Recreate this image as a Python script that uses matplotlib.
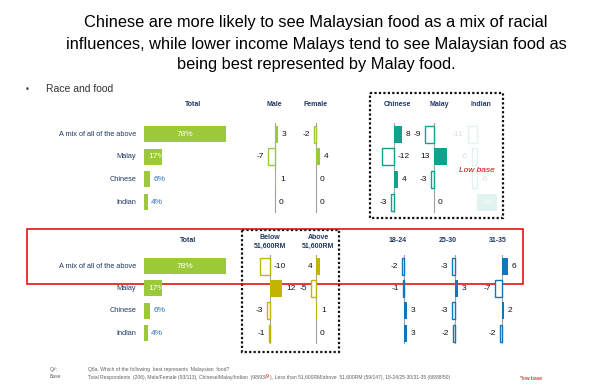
import matplotlib
matplotlib.use("Agg")
import matplotlib.pyplot as plt
from matplotlib.patches import Rectangle

# ---------------- data ----------------
title_lines = [
    "Chinese are more likely to see Malaysian food as a mix of racial",
    "influences, while lower income Malays tend to see Malaysian food as",
    "being best represented by Malay food.",
]
rows = ["A mix of all of the above", "Malay", "Chinese", "Indian"]
total = [78, 17, 6, 4]

male = [3, -7, 1, 0]
female = [-2, 4, 0, 0]
chinese = [8, -12, 4, -3]
malay = [-9, 13, -3, 0]
indian = [-11, -6, -6, 24]

below = [-10, 12, -3, -1]
above = [4, -5, 1, 0]
age_18_24 = [-2, -1, 3, 3]
age_25_30 = [-3, 3, -3, -2]
age_31_35 = [6, -7, 2, -2]

# label side for each value (R = right of axis/bar, L = left, C = centre)
male_side = "RLRR"
female_side = "LRRR"
chinese_side = "RRRL"
malay_side = "LLLR"
indian_side = "LLRC"
below_side = "RRLL"
above_side = "LLRR"
a1824_side = "LLRR"
a2530_side = "LRLL"
a3135_side = "RLRL"

# ---------------- style ----------------
W, H = 597, 390
GREEN = "#9BC93A"
TEAL = "#10A38C"
OLIVE = "#C2B400"
BLUE = "#1177BB"
NAVY = "#1F3864"
AXGRAY = "#A0A0A0"
FONT = "Liberation Sans"

fig = plt.figure(figsize=(W / 100, H / 100), dpi=100)
bg = fig.add_axes([0, 0, 1, 1])
bg.set_xlim(0, W)
bg.set_ylim(H, 0)
bg.axis("off")


def px_axes(x0, y0, w, h):
    ax = fig.add_axes([x0 / W, 1 - (y0 + h) / H, w / W, h / H])
    ax.axis("off")
    ax.patch.set_alpha(0)
    return ax


def diff_panel(values, sides, axis_x, y0, dy, color, bh=17, scale=1.0,
               span=40, faded=False):
    ax = px_axes(axis_x - span * scale, y0 - dy / 2, 2 * span * scale, 4 * dy)
    ax.set_xlim(-span, span)
    ax.set_ylim(3.5, -0.5)
    alpha = 0.13 if faded else 1.0
    if not faded:
        ax.axvline(0, color=AXGRAY, lw=0.8, zorder=1)
    for i, v in enumerate(values):
        if v >= 0:
            ax.barh(i, v, height=bh / dy, color=color, alpha=alpha, zorder=2)
        else:
            ax.barh(i, v, height=bh / dy, facecolor="white", edgecolor=color,
                    lw=1.0, alpha=alpha, zorder=2)
        s = sides[i]
        tcol = "#C8C8C8" if faded else "#111111"
        talpha = 0.6 if faded else 1.0
        if s == "R":
            ax.annotate(str(v), (max(v, 0), i), xytext=(4, 0),
                        textcoords="offset pixels", ha="left", va="center",
                        fontsize=6, family=FONT, color=tcol, alpha=talpha)
        elif s == "L":
            ax.annotate(str(v), (min(v, 0), i), xytext=(-4, 0),
                        textcoords="offset pixels", ha="right", va="center",
                        fontsize=6, family=FONT, color=tcol, alpha=talpha)
        else:
            ax.annotate(str(v), (v / 2, i), ha="center", va="center",
                        fontsize=6, family=FONT, color="white", alpha=0.8)
    return ax


def total_panel(values, x0, y0, dy, bh=16, scale=1.05):
    ax = px_axes(x0, y0 - dy / 2, 100 * scale, 4 * dy)
    ax.set_xlim(0, 100)
    ax.set_ylim(3.5, -0.5)
    for i, v in enumerate(values):
        ax.barh(i, v, height=bh / dy, color=GREEN, left=0)
        lab = f"{v}%"
        if v >= 50:
            ax.text(v / 2, i, lab, ha="center", va="center", color="white",
                    fontsize=6, family=FONT)
        elif v >= 15:
            ax.annotate(lab, (0, i), xytext=(4, 0), textcoords="offset pixels",
                        ha="left", va="center", color="white", fontsize=6,
                        family=FONT)
        else:
            ax.annotate(lab, (v, i), xytext=(3, 0), textcoords="offset pixels",
                        ha="left", va="center", color="#2E75B6", fontsize=6,
                        family=FONT)
    return ax


# ---------------- title ----------------
for k, line in enumerate(title_lines):
    bg.text(316, 23 + k * 21, line, ha="center", va="center", fontsize=11.8,
            family=FONT, color="black")

bg.text(27, 89, "\u2022", ha="center", va="center", fontsize=6, color="#404040")
bg.text(46, 89, "Race and food", ha="left", va="center", fontsize=7.5,
        family=FONT, color="#333333")

# ---------------- top section ----------------
TY0, TDY = 134, 22.7
for i, r in enumerate(rows):
    bg.text(136, TY0 + i * TDY, r, ha="right", va="center", fontsize=5.3,
            family=FONT, color=NAVY)
hdr = dict(ha="center", va="center", fontsize=5, family=FONT, color=NAVY,
           fontweight="bold")
bg.text(193, 104, "Total", **hdr)
bg.text(274, 104, "Male", **hdr)
bg.text(316, 104, "Female", **hdr)
bg.text(397, 104, "Chinese", **hdr)
bg.text(439, 104, "Malay", **hdr)
bg.text(481, 104, "Indian", **hdr)

total_panel(total, 144, TY0, TDY)
diff_panel(male, male_side, 275, TY0, TDY, GREEN)
diff_panel(female, female_side, 316, TY0, TDY, GREEN)
diff_panel(chinese, chinese_side, 394, TY0, TDY, TEAL)
diff_panel(malay, malay_side, 434, TY0, TDY, TEAL)
diff_panel(indian, indian_side, 477, TY0, TDY, TEAL, faded=True, scale=0.85)

bg.text(477, 170, "Low base", ha="center", va="center", fontsize=6,
        family=FONT, color="#D00000", style="italic")

bg.add_patch(Rectangle((370, 93), 133, 125, fill=False, ec="#111111",
                       lw=1.6, ls=(0, (1, 1))))

# ---------------- bottom section ----------------
BY0, BDY = 266, 22.4
for i, r in enumerate(rows):
    bg.text(136, BY0 + i * BDY, r, ha="right", va="center", fontsize=5.3,
            family=FONT, color=NAVY)
bg.text(188, 240, "Total", **hdr)
bg.text(270, 242, "Below\n51,600RM", linespacing=1.5, **hdr)
bg.text(318, 242, "Above\n51,600RM", linespacing=1.5, **hdr)
bg.text(398, 241, "18-24", **hdr)
bg.text(448, 241, "25-30", **hdr)
bg.text(498, 241, "31-35", **hdr)

total_panel(total, 144, BY0, BDY)
diff_panel(below, below_side, 270, BY0, BDY, OLIVE)
diff_panel(above, above_side, 316, BY0, BDY, OLIVE)
diff_panel(age_18_24, a1824_side, 404, BY0, BDY, BLUE)
diff_panel(age_25_30, a2530_side, 455, BY0, BDY, BLUE)
diff_panel(age_31_35, a3135_side, 502, BY0, BDY, BLUE)

bg.add_patch(Rectangle((242, 230), 97, 122, fill=False, ec="#111111",
                       lw=1.6, ls=(0, (1, 1))))
bg.add_patch(Rectangle((27, 229), 496, 55, fill=False, ec="#E00000", lw=1.1))

# ---------------- footer ----------------
foot = dict(fontsize=3.6, family=FONT, color="#606060", va="center", ha="left")
bg.text(50, 369, "Q#:", **foot)
bg.text(88, 369, "Q6a. Which of the following  best represents  Malaysian  food?",
        **foot)
bg.text(50, 377, "Base", **foot)

renderer = fig.canvas.get_renderer()
parts = [
    ("Total Respondents  (206), Male/Female (93/113), Chinese/Malay/Indian  (98/93/", "#606060"),
    ("9", "#D00000"),
    (") , Less than 51,600RM/above  51,600RM (59/147), 18-24/25-30/31-35 (68/88/50)", "#606060"),
]
x = 88
for txt, col in parts:
    t = bg.text(x, 377, txt, **{**foot, "color": col})
    bb = t.get_window_extent(renderer=renderer)
    x += bb.width
bg.text(520, 378, "*low base", **{**foot, "color": "#D00000"})

fig.savefig("out.png", dpi=100)
